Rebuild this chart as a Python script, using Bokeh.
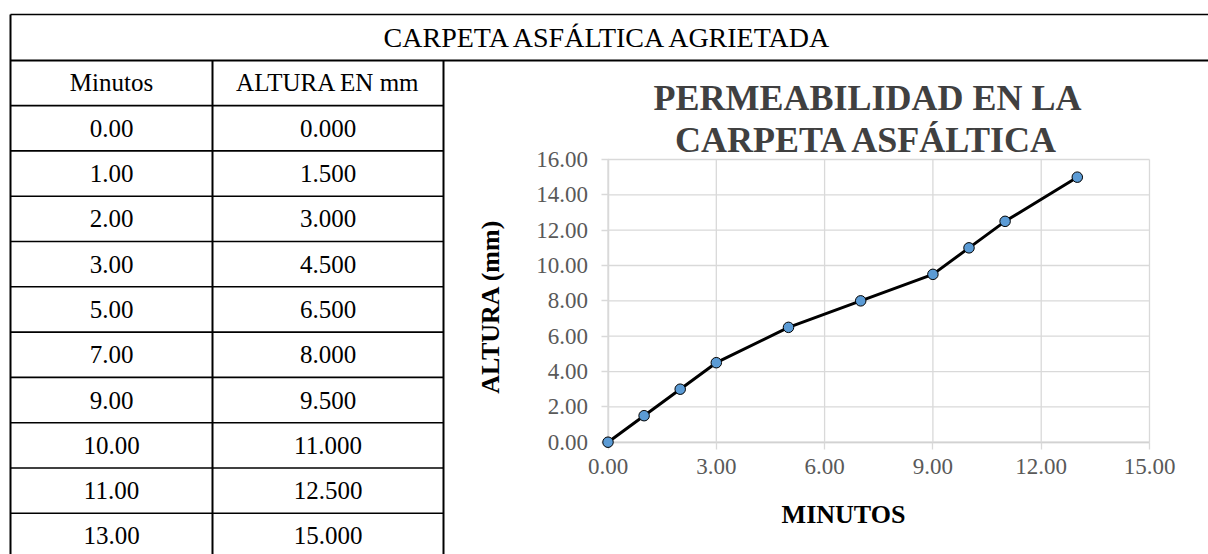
import math
from bokeh.plotting import figure
from bokeh.models import Range1d, LinearAxis, FixedTicker, NumeralTickFormatter
from bokeh.core.properties import value
from bokeh.embed import file_html
from bokeh.resources import INLINE

# ---------------- data ----------------
minutos = [0.0, 1.0, 2.0, 3.0, 5.0, 7.0, 9.0, 10.0, 11.0, 13.0]
altura = [0.0, 1.5, 3.0, 4.5, 6.5, 8.0, 9.5, 11.0, 12.5, 15.0]
table_title = "CARPETA ASFÁLTICA AGRIETADA"
col_headers = ["Minutos", "ALTURA EN mm"]
chart_title = ["PERMEABILIDAD EN LA", "CARPETA ASFÁLTICA"]
x_label = "MINUTOS"
y_label = "ALTURA (mm)"
x_ticks = [0, 3, 6, 9, 12, 15]
y_ticks = [0, 2, 4, 6, 8, 10, 12, 14, 16]

# ---------------- page geometry (pixels) ----------------
SERIF = "Liberation Serif"
W, H = 1208, 554
TBL_L, TBL_T, HEAD_B = 10, 14, 60
COL_LINES = [10, 212, 443]
ROW_H = 45.3
ROW_0 = 59.8
COL_X = [111, 327.5]
TABLE_FONT = "25px"

# chart placement: pixel of x=0 / x=15 and y=0 / y=16
X0_PX, X15_PX = 607.5, 1149.0
Y0_PX, Y16_PX = 441.7, 159.0
XPU = (X15_PX - X0_PX) / 15.0
YPU = (Y0_PX - Y16_PX) / 16.0

p = figure(width=W, height=H, x_range=Range1d(0, W), y_range=Range1d(H, 0),
           output_backend="svg", toolbar_location=None, min_border=0,
           x_axis_location=None, y_axis_location=None)
p.grid.visible = False
p.outline_line_color = None
p.background_fill_color = "white"
p.border_fill_color = "white"

p.extra_x_ranges = {"cx": Range1d(-X0_PX / XPU, (W - X0_PX) / XPU)}
p.extra_y_ranges = {"cy": Range1d(-(H - Y0_PX) / YPU, Y0_PX / YPU)}

# ---------------- table ----------------
n_rows = len(minutos) + 1
hy = [ROW_0 + k * ROW_H for k in range(1, n_rows)]
p.segment(x0=[TBL_L] * len(hy), y0=hy, x1=[COL_LINES[-1]] * len(hy), y1=hy,
          line_color="black", line_width=1.6)
p.segment(x0=[TBL_L, TBL_L], y0=[TBL_T, HEAD_B], x1=[W, W], y1=[TBL_T, HEAD_B],
          line_color="black", line_width=[1.3, 2.2])
p.segment(x0=COL_LINES, y0=[TBL_T, HEAD_B, HEAD_B], x1=COL_LINES, y1=[H] * 3,
          line_color="black", line_width=2)

p.text(x=[609], y=[(TBL_T + HEAD_B) / 2], text=[table_title], text_font=value(SERIF),
       text_font_size="28px", text_align="center", text_baseline="middle", text_color="black")

txt_x, txt_y, txt = [], [], []
for j, hdr in enumerate(col_headers):
    txt_x.append(COL_X[j]); txt_y.append(ROW_0 + 0.5 * ROW_H); txt.append(hdr)
for i, (m, a) in enumerate(zip(minutos, altura)):
    yc = ROW_0 + (i + 1.5) * ROW_H
    txt_x += COL_X; txt_y += [yc, yc]; txt += [f"{m:.2f}", f"{a:.3f}"]
p.text(x=txt_x, y=txt_y, text=txt, text_font=value(SERIF), text_font_size=TABLE_FONT,
       text_align="center", text_baseline="middle", text_color="black")

# ---------------- chart ----------------
GRID = "#d9d9d9"
p.segment(x0=x_ticks, y0=[y_ticks[0]] * len(x_ticks), x1=x_ticks, y1=[y_ticks[-1]] * len(x_ticks),
          line_color=GRID, line_width=1.3, x_range_name="cx", y_range_name="cy")
p.segment(x0=[x_ticks[0]] * len(y_ticks), y0=y_ticks, x1=[x_ticks[-1]] * len(y_ticks), y1=y_ticks,
          line_color=GRID, line_width=1.3, x_range_name="cx", y_range_name="cy")


def make_axis(ticks, line_color):
    ax = LinearAxis(x_range_name="cx", y_range_name="cy", fixed_location=0,
                    bounds=(ticks[0], ticks[-1]), ticker=FixedTicker(ticks=ticks),
                    formatter=NumeralTickFormatter(format="0.00"))
    ax.level = "underlay"
    ax.axis_line_color = line_color
    ax.axis_line_width = 1.5
    ax.major_tick_out = 7
    ax.major_tick_in = 0
    ax.major_tick_line_color = GRID
    ax.major_tick_line_width = 1.3
    ax.minor_tick_line_color = None
    ax.major_label_text_font = SERIF
    ax.major_label_text_font_size = "23px"
    ax.major_label_text_color = "#595959"
    return ax


xax = make_axis(x_ticks, "#bfbfbf")
xax.major_label_standoff = 10
yax = make_axis(y_ticks, GRID)
yax.major_label_standoff = 13
p.add_layout(xax, "below")
p.add_layout(yax, "left")

p.line(minutos, altura, line_color="black", line_width=3, x_range_name="cx", y_range_name="cy")
p.scatter(minutos, altura, size=10.5, fill_color="#5B9BD5", line_color="black", line_width=1,
          x_range_name="cx", y_range_name="cy")

p.text(x=[867, 867], y=[97, 139], text=chart_title, text_font=value(SERIF),
       text_font_size="36px", text_font_style="bold", text_color="#404040",
       text_align="center", text_baseline="middle")
p.text(x=[843], y=[514], text=[x_label], text_font=value(SERIF), text_font_size="26px",
       text_font_style="bold", text_color="black", text_align="center", text_baseline="middle")
p.text(x=[490], y=[306], text=[y_label], angle=math.pi / 2, text_font=value(SERIF),
       text_font_size="26px", text_font_style="bold", text_color="black",
       text_align="center", text_baseline="middle")

open("out.html", "w").write(file_html(p, INLINE))
